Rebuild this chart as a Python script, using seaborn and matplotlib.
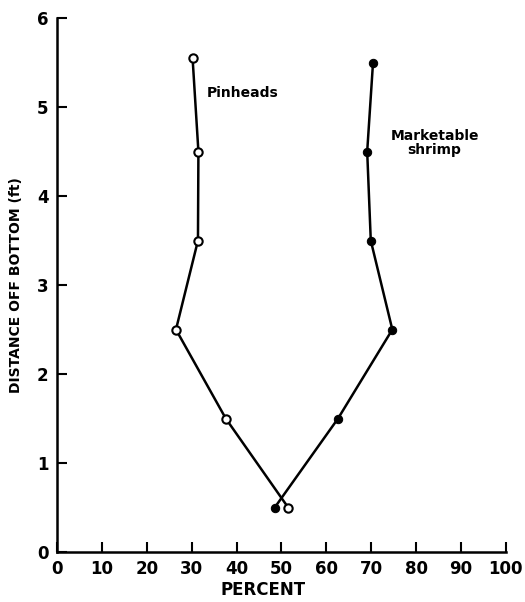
import matplotlib
matplotlib.use('Agg')
import matplotlib.pyplot as plt
import seaborn as sns
import pandas as pd

sns.set_style("ticks")
plt.rcParams['font.family'] = ['DejaVu Sans']
plt.rcParams['text.color'] = 'black'
plt.rcParams['axes.labelcolor'] = 'black'
plt.rcParams['xtick.color'] = 'black'
plt.rcParams['ytick.color'] = 'black'

# distance off bottom (ft)
distance = [0.5, 1.5, 2.5, 3.5, 4.5, 5.5]
pinheads_y = [0.5, 1.5, 2.5, 3.5, 4.5, 5.55]
pinheads = [51.5, 37.6, 26.5, 31.4, 31.5, 30.2]
marketable = [48.5, 62.6, 74.7, 69.9, 69.1, 70.4]

x_ticks = [0, 10, 20, 30, 40, 50, 60, 70, 80, 90, 100]
y_ticks = [0, 1, 2, 3, 4, 5, 6]

df_pin = pd.DataFrame({"percent": pinheads, "distance": pinheads_y})
df_mkt = pd.DataFrame({"percent": marketable, "distance": distance})

fig = plt.figure(figsize=(5.25, 6.02), dpi=100)
ax = fig.add_axes([0.1086, 0.083, 0.855, 0.887])

sns.lineplot(data=df_pin, x="percent", y="distance", sort=False, estimator=None,
             color="black", lw=1.8, marker="o", markersize=6,
             markerfacecolor="white", markeredgecolor="black", markeredgewidth=1.5, ax=ax)
sns.lineplot(data=df_mkt, x="percent", y="distance", sort=False, estimator=None,
             color="black", lw=1.8, marker="o", markersize=6,
             markerfacecolor="black", markeredgecolor="black", ax=ax)

ax.set_xlim(0, 100)
ax.set_ylim(0, 6)
ax.set_xticks(x_ticks)
ax.set_yticks(y_ticks)
ax.tick_params(direction="in", length=7, width=1.5, labelsize=12, pad=6)
for lab in ax.get_xticklabels() + ax.get_yticklabels():
    lab.set_fontweight("bold")
sns.despine(ax=ax)
for s in ["left", "bottom"]:
    ax.spines[s].set_linewidth(1.8)
    ax.spines[s].set_color("black")

ax.set_xlabel("")
ax.set_ylabel("DISTANCE OFF BOTTOM (ft)", fontsize=10, fontweight="bold", labelpad=10)
fig.text(263 / 525, 0.02, "PERCENT", ha="center", va="center", fontsize=12, fontweight="bold")

ax.text(33.3, 5.16, "Pinheads", fontsize=10, fontweight="bold", va="center", ha="left")
ax.text(84.1, 4.6, "Marketable\nshrimp", fontsize=10, fontweight="bold",
        va="center", ha="center", linespacing=1.0)

fig.savefig("out.png", dpi=100)
